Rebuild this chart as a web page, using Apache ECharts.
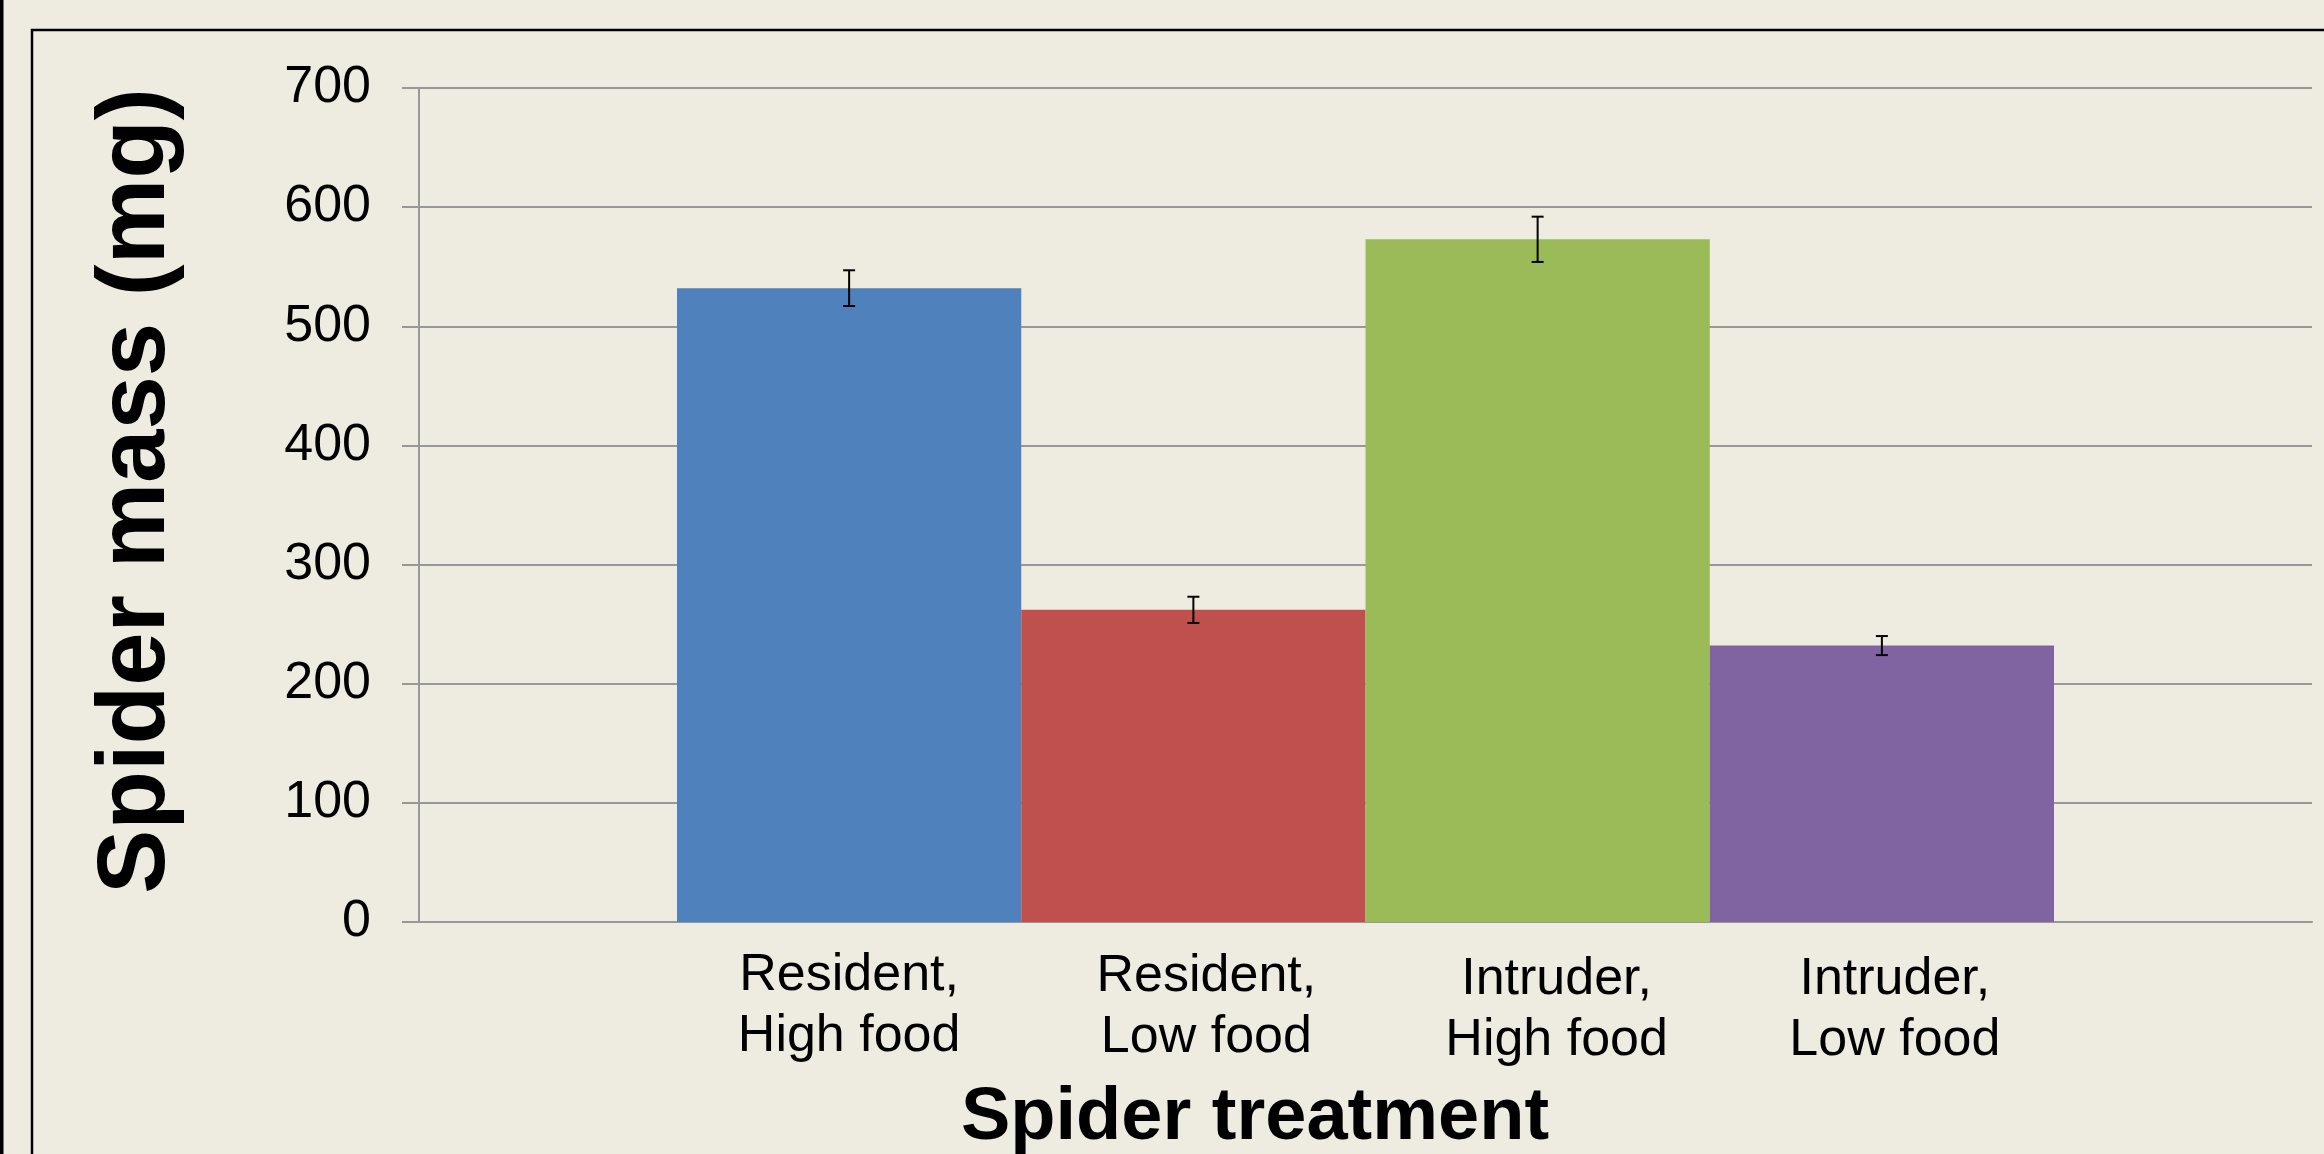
<!DOCTYPE html>
<html>
<head>
<meta charset="utf-8">
<script src="https://cdn.jsdelivr.net/npm/echarts@6/dist/echarts.min.js"></script>
<style>
html,body{margin:0;padding:0;background:#EEECE1;}
#chart{width:2324px;height:1154px;}
</style>
</head>
<body>
<div id="chart"></div>
<script>
// ---- data ----
const categories = ['Resident,\nHigh food', 'Resident,\nLow food', 'Intruder,\nHigh food', 'Intruder,\nLow food'];
const means = [532, 262, 573, 232];
const errors = [15, 11, 19, 8];
const yTicks = { min: 0, max: 700, interval: 100 };
const yTitle = 'Spider mass (mg)';
const xTitle = 'Spider treatment';

// ---- styles ----
const barColors = ['#4F81BD', '#C0504D', '#9BBB59', '#8064A2'];
const labelShift = [[0, 0], [1, 26], [4, 38], [4, 26]]; // [down, left padding]
const FONT = '"Liberation Sans", Arial, sans-serif';
const gridColor = '#989898';

const chart = echarts.init(document.getElementById('chart'), null, { renderer: 'canvas' });

const catData = categories.map((c, i) => ({
  value: c,
  textStyle: { padding: [labelShift[i][0], 0, 0, labelShift[i][1]] }
}));

const option = {
  backgroundColor: '#EEECE1',
  animation: false,
  textStyle: { fontFamily: FONT },
  title: {
    text: xTitle,
    left: 961, top: 1082, padding: 0,
    textStyle: { fontFamily: FONT, fontSize: 74, fontWeight: 'bold', color: '#000' }
  },
  grid: [
    { left: 419, right: 12, top: 88, bottom: 232 },
    { left: 677, right: 270, top: 88, bottom: 232 }
  ],
  xAxis: [
    {
      gridIndex: 0, type: 'category', data: [''],
      axisLine: { show: true, lineStyle: { color: gridColor, width: 2 } },
      axisTick: { show: false }, axisLabel: { show: false }, splitLine: { show: false }
    },
    {
      gridIndex: 1, type: 'category', data: catData,
      axisLine: { show: false }, axisTick: { show: false }, splitLine: { show: false },
      axisLabel: { color: '#000', fontSize: 52, fontFamily: FONT, lineHeight: 61, margin: 23, interval: 0 }
    }
  ],
  yAxis: [
    {
      gridIndex: 0, type: 'value', min: yTicks.min, max: yTicks.max, interval: yTicks.interval,
      axisLine: { show: true, lineStyle: { color: gridColor, width: 2 } },
      axisTick: { show: true, length: 17, lineStyle: { color: gridColor, width: 2 } },
      splitLine: { show: true, lineStyle: { color: gridColor, width: 2 } },
      axisLabel: { color: '#000', fontSize: 52, fontFamily: FONT, margin: 48, padding: [5, 0, 0, 0] }
    },
    {
      gridIndex: 1, type: 'value', min: yTicks.min, max: yTicks.max, interval: yTicks.interval,
      show: false, splitLine: { show: false }
    }
  ],
  graphic: [
    { type: 'rect', shape: { x: 0, y: 0, width: 3.5, height: 1154 }, style: { fill: '#000' }, z: 100 },
    { type: 'rect', shape: { x: 32, y: 30, width: 2400, height: 1300 }, style: { fill: null, stroke: '#000', lineWidth: 2.5 }, z: 100 },
    {
      type: 'text', x: 138, y: 491, rotation: Math.PI / 2,
      style: { text: yTitle, fontFamily: FONT, fontSize: 96, fontWeight: 'bold', fill: '#000', align: 'center', verticalAlign: 'middle' }
    }
  ],
  series: [
    {
      type: 'bar', xAxisIndex: 1, yAxisIndex: 1,
      data: means,
      barCategoryGap: '0%',
      itemStyle: { color: p => barColors[p.dataIndex] },
      z: 3
    },
    {
      type: 'custom', xAxisIndex: 1, yAxisIndex: 1, z: 5,
      data: means.map((m, i) => [i, m - errors[i], m + errors[i]]),
      renderItem: function (params, api) {
        const i = api.value(0);
        const lo = api.coord([i, api.value(1)]);
        const hi = api.coord([i, api.value(2)]);
        const half = 6;
        const st = { stroke: '#000', lineWidth: 2 };
        return {
          type: 'group',
          children: [
            { type: 'line', shape: { x1: lo[0], y1: lo[1], x2: hi[0], y2: hi[1] }, style: st },
            { type: 'line', shape: { x1: lo[0] - half, y1: lo[1], x2: lo[0] + half, y2: lo[1] }, style: st },
            { type: 'line', shape: { x1: hi[0] - half, y1: hi[1], x2: hi[0] + half, y2: hi[1] }, style: st }
          ]
        };
      }
    }
  ]
};
chart.setOption(option);
</script>
</body>
</html>
